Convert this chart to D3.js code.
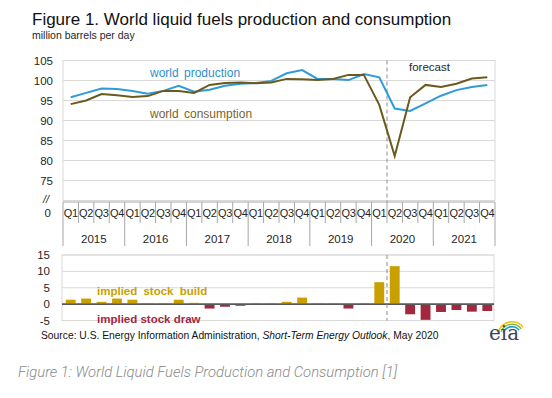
<!DOCTYPE html>
<html>
<head>
<meta charset="utf-8">
<script src="https://d3js.org/d3.v7.min.js"></script>
<style>
    body { margin: 0; background: #fff; }
    svg { background-color: white; display: block; }
    text { font-family: Arial, "Liberation Sans", sans-serif; }
</style>
</head>
<body>
<script>
    // Data (million barrels per day)
    var years = ["2015", "2016", "2017", "2018", "2019", "2020", "2021"];
    var quarterNames = ["Q1", "Q2", "Q3", "Q4"];
    var production = [95.8, 96.9, 98.0, 97.9, 97.4, 96.7, 97.4, 98.7, 97.2, 97.7, 98.7, 99.2, 99.4, 99.9,
                      101.8, 102.6, 100.4, 100.4, 100.1, 101.6, 100.8, 93.0, 92.4, 94.3, 96.2, 97.6, 98.4, 98.9];
    var consumption = [94.1, 95.0, 96.6, 96.3, 95.9, 96.1, 97.4, 97.4, 96.9, 98.9, 99.4, 99.5, 99.3, 99.5,
                       100.4, 100.3, 100.1, 100.4, 101.4, 101.4, 93.9, 81.1, 95.8, 98.9, 98.4, 99.2, 100.5, 100.8];
    var stockChange = [1.35, 1.7, 0.7, 1.7, 1.35, 0.3, 0.3, 1.35, 0.4, -1.35, -0.8, -0.5, 0.3, 0.3,
                       0.7, 2.0, 0.3, 0.3, -1.35, 0.3, 6.7, 11.6, -3.1, -4.8, -2.4, -1.8, -2.3, -2.1];
    var lineTicks = [75, 80, 85, 90, 95, 100, 105];
    var barTicks = [-5, 0, 5, 10, 15];

    var W = 552, H = 398;
    var svg = d3.select("body").append("svg").attr("width", W).attr("height", H);

    var quarters = [];
    years.forEach(function(y) { quarterNames.forEach(function(q) { quarters.push(y + q); }); });

    var plotL = 63, plotR = 495;
    var x = d3.scaleBand().domain(quarters).range([plotL, plotR]);
    var xb = d3.scaleBand().domain(quarters).range([plotL, plotR]).paddingInner(0.36).paddingOuter(0.18);
    var y = d3.scaleLinear().domain([70, 105]).range([200.5, 60.5]);
    var yb = d3.scaleLinear().domain([-5, 15]).range([320.5, 255]);

    var grid = "#d9d9d9", txt = "#262626";
    var blue = "#2f9bd8", brown = "#6b5a1e", gold = "#c9a000", red = "#a3283f";

    // Title
    svg.append("text").attr("x", 32).attr("y", 25).style("font-size", "17px").attr("fill", "#111")
        .text("Figure 1. World liquid fuels production and consumption");
    svg.append("text").attr("x", 32).attr("y", 39).style("font-size", "10.5px").attr("fill", txt)
        .text("million barrels per day");

    // Line chart: grid
    svg.append("rect").attr("x", plotL).attr("y", y(105)).attr("width", plotR - plotL).attr("height", y(70) - y(105))
        .attr("fill", "none").attr("stroke", grid);
    svg.append("g").selectAll("line").data(lineTicks).enter().append("line")
        .attr("x1", plotL).attr("x2", plotR).attr("y1", function(d) { return y(d); }).attr("y2", function(d) { return y(d); })
        .attr("stroke", grid);
    svg.append("g").selectAll("text").data(lineTicks).enter().append("text")
        .attr("x", 53).attr("y", function(d) { return y(d) + 4; }).attr("text-anchor", "end")
        .style("font-size", "11.5px").attr("fill", txt).text(function(d) { return d; });
    svg.append("text").attr("x", 49).attr("y", 203).attr("text-anchor", "end").style("font-size", "11px")
        .style("font-style", "italic").attr("fill", txt).text("//");
    svg.append("text").attr("x", 51).attr("y", 217).attr("text-anchor", "end").style("font-size", "11.5px")
        .attr("fill", txt).text("0");

    // Category axis
    var axY = 202;
    svg.append("line").attr("x1", plotL).attr("x2", plotR).attr("y1", axY).attr("y2", axY).attr("stroke", "#a6a6a6");
    svg.append("g").selectAll("line").data(quarters).enter().append("line")
        .attr("x1", function(d) { return x(d); }).attr("x2", function(d) { return x(d); })
        .attr("y1", axY).attr("y2", function(d) { return d.slice(4) === "Q1" ? 246 : 223; })
        .attr("stroke", "#a6a6a6");
    svg.append("line").attr("x1", plotR).attr("x2", plotR).attr("y1", axY).attr("y2", 246).attr("stroke", "#a6a6a6");
    svg.append("g").selectAll("text").data(quarters).enter().append("text")
        .attr("x", function(d) { return x(d) + x.bandwidth() / 2; }).attr("y", 217)
        .attr("text-anchor", "middle").style("font-size", "11px").style("letter-spacing", "-0.3px")
        .attr("fill", txt).text(function(d) { return d.slice(4); });
    svg.append("g").selectAll("text").data(years).enter().append("text")
        .attr("x", function(d) { return x(d + "Q1") + 2 * x.bandwidth(); }).attr("y", 243)
        .attr("text-anchor", "middle").style("font-size", "11.5px").attr("fill", txt).text(function(d) { return d; });

    // Forecast divider
    var fx = x("2020Q2");
    svg.append("line").attr("x1", fx).attr("x2", fx).attr("y1", y(105)).attr("y2", axY)
        .attr("stroke", "#8c8c8c").attr("stroke-dasharray", "4,3");
    svg.append("text").attr("x", 409).attr("y", 71).style("font-size", "11.5px").attr("fill", txt).text("forecast");

    // Lines
    var line = d3.line()
        .x(function(d, i) { return x(quarters[i]) + x.bandwidth() / 2; })
        .y(function(d) { return y(d); });
    svg.append("path").datum(production).attr("d", line).attr("fill", "none")
        .attr("stroke", blue).attr("stroke-width", 2);
    svg.append("path").datum(consumption).attr("d", line).attr("fill", "none")
        .attr("stroke", brown).attr("stroke-width", 2);
    svg.append("text").attr("x", 150).attr("y", 77).style("font-size", "12px").style("word-spacing", "2px")
        .attr("fill", "#2f8fcc").text("world production");
    svg.append("text").attr("x", 150).attr("y", 118).style("font-size", "12px").style("word-spacing", "2px")
        .attr("fill", "#7a6528").text("world consumption");

    // Bar chart
    var bL = 62, bR = 494;
    svg.append("rect").attr("x", bL).attr("y", yb(15)).attr("width", bR - bL).attr("height", yb(-5) - yb(15))
        .attr("fill", "none").attr("stroke", grid);
    svg.append("g").selectAll("line").data(barTicks).enter().append("line")
        .attr("x1", bL).attr("x2", bR).attr("y1", function(d) { return yb(d); }).attr("y2", function(d) { return yb(d); })
        .attr("stroke", function(d) { return d === 0 ? "#595959" : grid; })
        .attr("stroke-width", function(d) { return d === 0 ? 1.5 : 1; });
    svg.append("g").selectAll("text").data(barTicks).enter().append("text")
        .attr("x", 50).attr("y", function(d) { return yb(d) + 4; }).attr("text-anchor", "end")
        .style("font-size", "11.5px").attr("fill", txt).text(function(d) { return d; });
    svg.append("g").selectAll("rect").data(stockChange).enter().append("rect")
        .attr("x", function(d, i) { return xb(quarters[i]); })
        .attr("width", xb.bandwidth())
        .attr("y", function(d) { return yb(Math.max(0, d)); })
        .attr("height", function(d) { return Math.abs(yb(d) - yb(0)); })
        .attr("fill", function(d) { return d >= 0 ? gold : red; });
    svg.append("line").attr("x1", bL).attr("x2", bR).attr("y1", yb(0)).attr("y2", yb(0))
        .attr("stroke", "#595959").attr("stroke-width", 1.5);
    svg.append("line").attr("x1", fx).attr("x2", fx).attr("y1", yb(15)).attr("y2", yb(-5))
        .attr("stroke", "#8c8c8c").attr("stroke-dasharray", "4,3");
    svg.append("text").attr("x", 97).attr("y", 295).style("font-size", "11.5px").style("font-weight", "bold")
        .style("word-spacing", "3px").attr("fill", gold).text("implied stock build");
    svg.append("text").attr("x", 97).attr("y", 323).style("font-size", "11.5px").style("font-weight", "bold")
        .attr("fill", red).text("implied stock draw");

    // Source
    var src = svg.append("text").attr("x", 41).attr("y", 339).style("font-size", "10.3px").attr("fill", "#111");
    src.append("tspan").text("Source: U.S. Energy Information Administration, ");
    src.append("tspan").style("font-style", "italic").text("Short-Term Energy Outlook");
    src.append("tspan").text(", May 2020");

    // eia logo
    var logo = svg.append("g");
    [["#f2c300", 15], ["#7dbb42", 12.5], ["#1e9bd7", 10]].forEach(function(a) {
        logo.append("path")
            .attr("d", d3.arc()({innerRadius: a[1] - 1.6, outerRadius: a[1], startAngle: -1.2, endAngle: 0.9}))
            .attr("transform", "translate(512,336)").attr("fill", a[0]);
    });
    logo.append("text").attr("x", 489).attr("y", 340).style("font-family", "'DejaVu Serif', 'Liberation Serif', serif")
        .style("font-size", "20px").attr("fill", "#3b4656").text("eia");

    // Caption
    svg.append("text").attr("x", 18).attr("y", 377)
        .style("font-family", "Roboto, 'Open Sans', sans-serif").style("font-style", "italic").style("font-weight", 300)
        .style("font-size", "14.8px").attr("fill", "#8a8a8a")
        .text("Figure 1: World Liquid Fuels Production and Consumption [1]");
</script>
</body>
</html>
